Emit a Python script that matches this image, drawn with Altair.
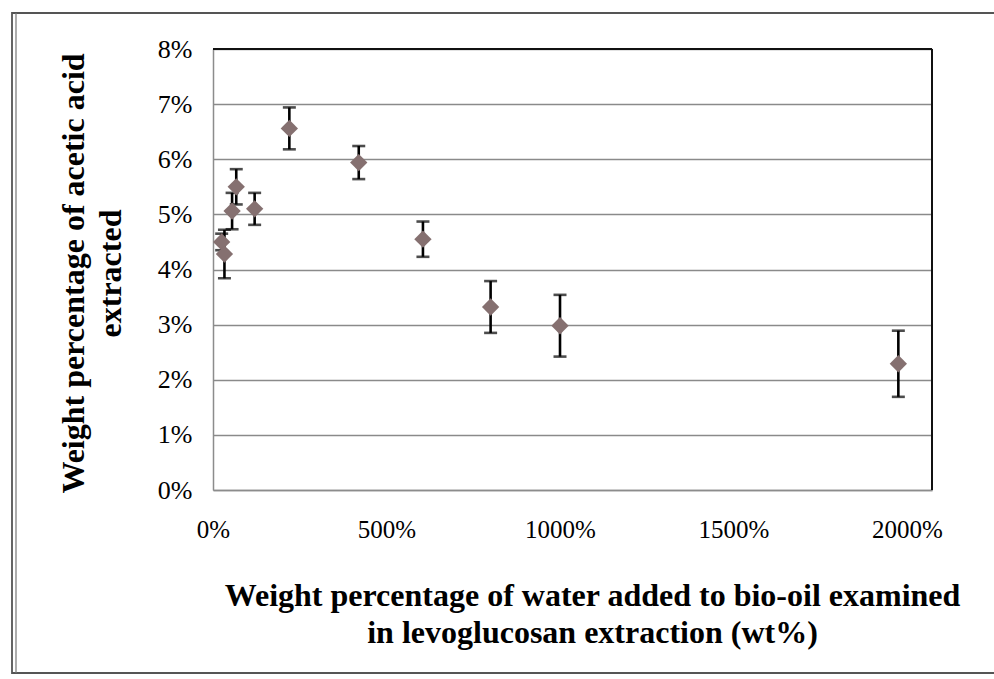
import altair as alt
import pandas as pd

# Data
water_pct = [25, 33, 55, 67, 120, 220, 420, 605, 800, 1000, 1975]      # wt% water added
acetic_pct = [4.50, 4.28, 5.06, 5.50, 5.10, 6.56, 5.94, 4.55, 3.32, 2.98, 2.29]  # wt% acetic acid
error_pct = [0.15, 0.44, 0.33, 0.32, 0.29, 0.38, 0.30, 0.32, 0.47, 0.56, 0.60]

x_ticks = [0, 500, 1000, 1500, 2000]
y_ticks = [0, 0.01, 0.02, 0.03, 0.04, 0.05, 0.06, 0.07, 0.08]

df = pd.DataFrame({
    "water": water_pct,
    "acetic": [v / 100 for v in acetic_pct],
    "lo": [(v - e) / 100 for v, e in zip(acetic_pct, error_pct)],
    "hi": [(v + e) / 100 for v, e in zip(acetic_pct, error_pct)],
})

W, H = 719, 441
SERIF = "Liberation Serif"

x_scale = alt.Scale(domain=[0, 2072], nice=False, zero=True)
y_scale = alt.Scale(domain=[0, 0.08], nice=False)

x_axis = alt.Axis(
    values=x_ticks,
    labelExpr="datum.value + '%'",
    grid=False,
    ticks=False,
    domain=True,
    domainColor="#8c8c8c",
    domainWidth=1.5,
    labelFont=SERIF,
    labelFontSize=25,
    labelColor="#000000",
    labelPadding=27,
    labelFlush=False,
    title=["Weight percentage of water added to bio-oil examined",
           "in levoglucosan extraction (wt%)"],
    titleFont=SERIF,
    titleFontSize=32,
    titleFontWeight="bold",
    titleColor="#000000",
    titleX=379,
    titleY=105,
    titleAlign="center",
    titleBaseline="middle",
    titleLineHeight=37,
)

y_axis = alt.Axis(
    values=y_ticks,
    format=".0%",
    grid=True,
    gridColor="#8a8a8a",
    gridWidth=1.3,
    ticks=False,
    domain=True,
    domainColor="#8c8c8c",
    domainWidth=1.5,
    labelFont=SERIF,
    labelFontSize=26,
    labelColor="#000000",
    labelPadding=21,
    title=["Weight percentage of acetic acid", "extracted"],
    titleFont=SERIF,
    titleFontSize=32,
    titleFontWeight="bold",
    titleColor="#000000",
    titleAngle=270,
    titleX=-140,
    titleY=224,
    titleAlign="center",
    titleBaseline="middle",
    titleLineHeight=37,
)

base = alt.Chart(df)

bars = base.mark_rule(color="#000000", strokeWidth=2.6).encode(
    x=alt.X("water:Q", scale=x_scale, axis=x_axis),
    y=alt.Y("lo:Q", scale=y_scale, axis=y_axis),
    y2="hi:Q",
)
caps_lo = base.mark_tick(orient="horizontal", size=13, thickness=2.6, color="#000000").encode(
    x=alt.X("water:Q", scale=x_scale),
    y=alt.Y("lo:Q", scale=y_scale),
)
caps_hi = base.mark_tick(orient="horizontal", size=13, thickness=2.6, color="#000000").encode(
    x=alt.X("water:Q", scale=x_scale),
    y=alt.Y("hi:Q", scale=y_scale),
)
points = base.mark_point(shape="diamond", filled=True, size=300, color="#857070", opacity=1).encode(
    x=alt.X("water:Q", scale=x_scale),
    y=alt.Y("acetic:Q", scale=y_scale),
)

one = alt.Data(values=[{"k": 1}])
top_border = alt.Chart(one).mark_rule(color="#111111", strokeWidth=2).encode(
    x=alt.value(0), x2=alt.value(W), y=alt.value(0)
)
right_border = alt.Chart(one).mark_rule(color="#111111", strokeWidth=2).encode(
    x=alt.value(W), y=alt.value(0), y2=alt.value(H)
)
frame = alt.Chart(one).mark_rect(fill=None, stroke="#555555", strokeWidth=1.8).encode(
    x=alt.value(-201), x2=alt.value(800), y=alt.value(-36), y2=alt.value(624)
)
frame_inner = alt.Chart(one).mark_rule(color="#777777", strokeWidth=1.2).encode(
    x=alt.value(-197), y=alt.value(-36), y2=alt.value(624)
)

chart = alt.layer(
    frame, frame_inner, bars, caps_lo, caps_hi, points, top_border, right_border
).properties(
    width=W,
    height=H,
    autosize=alt.AutoSizeParams(type="none"),
    padding={"left": 213, "top": 49, "right": 62, "bottom": 189},
    background="#ffffff",
).configure_view(
    stroke=None
)

chart.save("out.html", embed_options={"renderer": "svg", "actions": False})
